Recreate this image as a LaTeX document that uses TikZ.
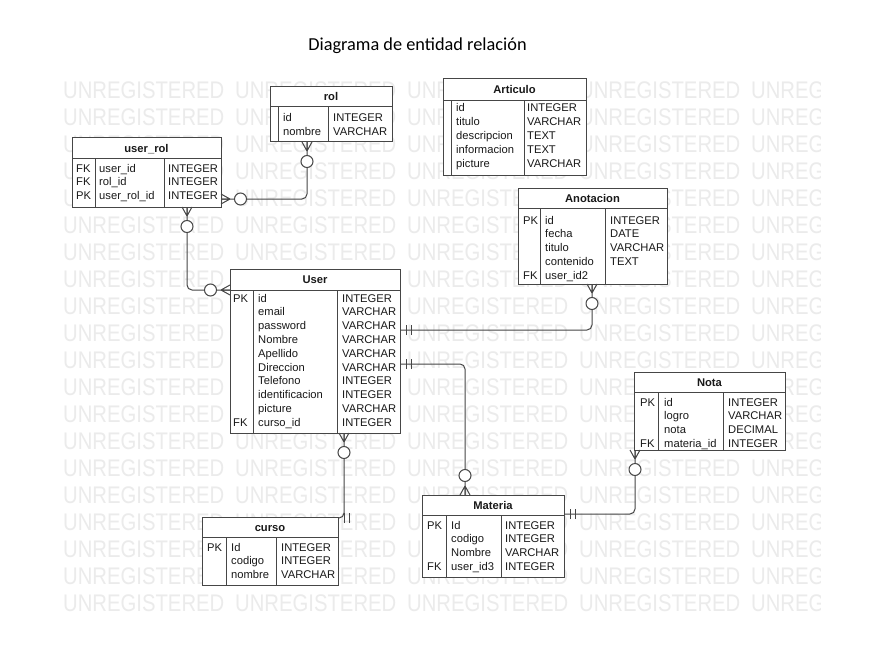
\documentclass[tikz,border=0pt]{standalone}
\usepackage{fontspec}
\setmainfont{Liberation Sans}
\newfontfamily\carlito{Carlito}
\usetikzlibrary{calc}
\definecolor{linec}{RGB}{70,70,70}
\definecolor{txtc}{RGB}{25,25,25}
\definecolor{wmc}{RGB}{235,235,235}
\tikzset{
  ln/.style={draw=linec, line width=1pt},
  box/.style={draw=linec, fill=white, line width=1pt, inner sep=0pt, outer sep=0pt, anchor=north west},
  cell/.style={font=\fontsize{11.2}{13.8}\selectfont, text=txtc, inner sep=0pt, anchor=base west},
  hdr/.style={font=\bfseries\fontsize{11.2}{13.8}\selectfont, text=txtc, inner sep=0pt, anchor=base},
  wm/.style={font=\fontsize{24}{24}\selectfont, text=wmc, inner sep=0pt, anchor=west},
}
\newcommand\entity[9]{%
  \node[box, minimum width={(#4-#2)*1pt}, minimum height={(#5-#3)*1pt}] (#1) at (#2,#3) {};
  \draw[ln] (#1.north west |- 0,#6) -- (#1.north east |- 0,#6);
  \draw[ln] (#7,#6) -- (#7,#5);
  \draw[ln] (#8,#6) -- (#8,#5);
  \node[hdr] (#1-title) at ({(#2+#4)/2},{(#3+#6)/2+4}) {#9};
}
\newcommand\ecol[4]{\foreach \t [count=\i] in {#4} {\node[cell] (#1\i) at (#2,{#3+13.8*(\i-1)}) {\t};}}
\newcommand\crow[3]{%
  \draw[ln] ($(#1)+({9*#2},{9*#3})$) -- ($(#1)+({5*#3},{5*#2})$)
            ($(#1)+({9*#2},{9*#3})$) -- (#1)
            ($(#1)+({9*#2},{9*#3})$) -- ($(#1)-({5*#3},{5*#2})$);
  \draw[ln, fill=white] ($(#1)+({19.5*#2},{19.5*#3})$) circle (6pt);
}
\newcommand\bars[3]{%
  \draw[ln] ($(#1)+({6*#2+5*#3},{6*#3+5*#2})$) -- ($(#1)+({6*#2-5*#3},{6*#3-5*#2})$)
            ($(#1)+({11*#2+5*#3},{11*#3+5*#2})$) -- ($(#1)+({11*#2-5*#3},{11*#3-5*#2})$);
}
\begin{document}
\begin{tikzpicture}[x=1pt, y=-1pt]
\useasboundingbox[fill=white] (0,0) rectangle (882,663);
% watermark
\begin{scope}
  \clip (0,0) rectangle (820,663);
  \foreach \r in {0,...,19} {
    \foreach \k in {0,...,4} {
      \node[wm] (wm-\r-\k) at ({63+172*\k},{90+27*\r}) {\scalebox{0.845}[1]{UNREGISTERED}};
    }
  }
\end{scope}
% title
\node[font=\carlito\fontsize{18.3}{20}\selectfont, text=black, inner sep=0pt, anchor=base] (title) at (417.5,51) {Diagrama de entidad relación};

% entities
\entity{rol}{270}{87}{392}{142}{107}{278}{328}{rol}
\ecol{rol-n}{283}{122}{id,nombre}
\ecol{rol-t}{333}{122}{INTEGER,VARCHAR}

\entity{uro}{72}{138}{221}{207}{159}{95}{164}{user\_rol}
\ecol{uro-k}{76}{172}{FK,FK,PK}
\ecol{uro-n}{99}{172}{user\_id,rol\_id,user\_rol\_id}
\ecol{uro-t}{168}{172}{INTEGER,INTEGER,INTEGER}

\entity{art}{443}{79}{586}{175}{101}{451}{524}{Articulo}
\ecol{art-n}{456}{112}{id,titulo,descripcion,informacion,picture}
\ecol{art-t}{527}{112}{INTEGER,VARCHAR,TEXT,TEXT,VARCHAR}

\entity{ano}{518}{188}{667}{284}{208}{540}{605}{Anotacion}
\node[cell] (ano-k1) at (523,224) {PK};
\node[cell] (ano-k5) at (523,{224+4*13.8}) {FK};
\ecol{ano-n}{545}{224}{id,fecha,titulo,contenido,user\_id2}
\ecol{ano-t}{610}{224}{INTEGER,DATE,VARCHAR,TEXT}

\entity{user}{230}{269}{400}{433}{290}{253}{337}{User}
\node[cell] (user-k1) at (233,302) {PK};
\node[cell] (user-k10) at (233,{302+9*13.8}) {FK};
\ecol{user-n}{258}{302}{id,email,password,Nombre,Apellido,Direccion,Telefono,identificacion,picture,curso\_id}
\ecol{user-t}{342}{302}{INTEGER,VARCHAR,VARCHAR,VARCHAR,VARCHAR,VARCHAR,INTEGER,INTEGER,VARCHAR,INTEGER}

\entity{curso}{202}{517}{338}{585}{537}{226}{276}{curso}
\node[cell] (curso-k1) at (207,551) {PK};
\ecol{curso-n}{231}{551}{Id,codigo,nombre}
\ecol{curso-t}{281}{551}{INTEGER,INTEGER,VARCHAR}

\entity{mat}{422}{495}{564}{577}{515}{446}{501}{Materia}
\node[cell] (mat-k1) at (427,529) {PK};
\node[cell] (mat-k4) at (427,{529+3*13.8}) {FK};
\ecol{mat-n}{451}{529}{Id,codigo,Nombre,user\_id3}
\ecol{mat-t}{505}{529}{INTEGER,INTEGER,VARCHAR,INTEGER}

\entity{nota}{634}{372}{785}{450}{392}{658}{723}{Nota}
\node[cell] (nota-k1) at (640,406) {PK};
\node[cell] (nota-k4) at (640,{406+3*13.8}) {FK};
\ecol{nota-n}{664}{406}{id,logro,nota,materia\_id}
\ecol{nota-t}{728}{406}{INTEGER,VARCHAR,DECIMAL,INTEGER}

% connector end points
\coordinate (rolS) at (rol.south -| 307,0);
\coordinate (uroE) at (uro.east |- 0,199);
\coordinate (uroS) at (uro.south -| 187,0);
\coordinate (userW) at (user.west |- 0,290);
\coordinate (anoS) at (ano.south -| 592,0);
\coordinate (userE1) at (user.east |- 0,330);
\coordinate (userE2) at (user.east |- 0,364);
\coordinate (matN) at (mat.north -| 465,0);
\coordinate (notaS) at (nota.south -| 635,0);
\coordinate (matE) at (mat.east |- 0,514);
\coordinate (userS) at (user.south -| 344,0);
\coordinate (cursoE) at (curso.east |- 0,518);

% connectors
\draw[ln, rounded corners=5pt] (rolS) |- (uroE);
\draw[ln, rounded corners=5pt] (uroS) |- (userW);
\draw[ln, rounded corners=5pt] (anoS) |- (userE1);
\draw[ln, rounded corners=5pt] (userE2) -| (matN);
\draw[ln, rounded corners=5pt] (notaS) |- (matE);
\draw[ln, rounded corners=5pt] (userS) |- (cursoE);

\crow{rolS}{0}{1}
\crow{uroE}{1}{0}
\crow{uroS}{0}{1}
\crow{userW}{-1}{0}
\crow{anoS}{0}{1}
\crow{matN}{0}{-1}
\crow{notaS}{0}{1}
\crow{userS}{0}{1}

\bars{userE1}{1}{0}
\bars{userE2}{1}{0}
\bars{matE}{1}{0}
\bars{cursoE}{1}{0}
\end{tikzpicture}
\end{document}
